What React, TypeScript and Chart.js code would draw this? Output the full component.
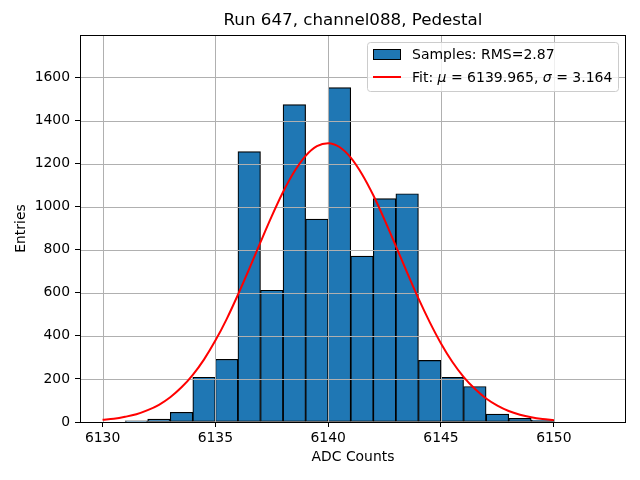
import { useEffect, useRef } from "react";
import { Chart, registerables } from "chart.js";

Chart.register(...registerables);

// histogram bins (left edge, width 1 ADC count)
const binStarts = [
  6131, 6132, 6133, 6134, 6135, 6136, 6137, 6138, 6139, 6140,
  6141, 6142, 6143, 6144, 6145, 6146, 6147, 6148, 6149,
];
const binCounts = [
  5, 13, 45, 208, 291, 1256, 612, 1474, 942, 1553,
  770, 1037, 1060, 286, 207, 165, 37, 17, 9,
];

// gaussian fit curve
const fitX = [
  6130, 6130.5, 6131, 6131.5, 6132, 6132.5, 6133, 6133.5, 6134, 6134.5,
  6135, 6135.5, 6136, 6136.5, 6137, 6137.5, 6138, 6138.5, 6139, 6139.5,
  6140, 6140.5, 6141, 6141.5, 6142, 6142.5, 6143, 6143.5, 6144, 6144.5,
  6145, 6145.5, 6146, 6146.5, 6147, 6147.5, 6148, 6148.5, 6149, 6149.5, 6150,
];
const fitY = [
  10, 15, 24, 36, 55, 80, 115, 161, 219, 291,
  378, 478, 591, 711, 835, 956, 1068, 1163, 1236, 1281,
  1295, 1277, 1228, 1151, 1053, 939, 817, 694, 574, 464,
  365, 280, 210, 154, 109, 76, 51, 34, 22, 14, 9,
];

const xTicks = [6130, 6135, 6140, 6145, 6150];
const yTicks = [0, 200, 400, 600, 800, 1000, 1200, 1400, 1600];

const titleText = "Run 647, channel088, Pedestal";
const xLabel = "ADC Counts";
const yLabel = "Entries";
const samplesLabel = "Samples: RMS=2.87";
// fit label pieces: [text, italic]
const fitLabelParts: [string, boolean][] = [
  ["Fit: ", false],
  ["\u03bc", true],
  [" = 6139.965, ", false],
  ["\u03c3", true],
  [" = 3.164", false],
];

const FONT = "'DejaVu Sans', sans-serif";
const BLUE = "#1f77b4";

const gridOverBars = {
  id: "gridOverBars",
  afterDatasetDraw(chart: any, args: any) {
    if (args.meta.type !== "bar") return;
    const { ctx, chartArea: a, scales } = chart;
    ctx.save();
    ctx.strokeStyle = "#b0b0b0";
    ctx.lineWidth = 1;
    ctx.beginPath();
    xTicks.forEach((v) => {
      const x = Math.round(scales.x.getPixelForValue(v)) + 0.5;
      ctx.moveTo(x, a.top);
      ctx.lineTo(x, a.bottom);
    });
    yTicks.forEach((v) => {
      const y = Math.round(scales.y.getPixelForValue(v)) + 0.5;
      ctx.moveTo(a.left, y);
      ctx.lineTo(a.right, y);
    });
    ctx.stroke();
    ctx.restore();
  },
};

const frameAndLegend = {
  id: "frameAndLegend",
  afterDraw(chart: any) {
    const { ctx, chartArea: a } = chart;
    ctx.save();
    ctx.strokeStyle = "#000";
    ctx.lineWidth = 1;
    ctx.strokeRect(
      Math.round(a.left) + 0.5,
      Math.round(a.top) + 0.5,
      Math.round(a.right - a.left) - 1,
      Math.round(a.bottom - a.top)
    );

    // legend box
    const bx = 367.5, by = 42.5, bw = 251, bh = 49;
    ctx.beginPath();
    ctx.roundRect(bx, by, bw, bh, 3);
    ctx.fillStyle = "rgba(255,255,255,0.8)";
    ctx.fill();
    ctx.strokeStyle = "#cccccc";
    ctx.stroke();

    ctx.fillStyle = BLUE;
    ctx.fillRect(373, 49, 28, 10);
    ctx.strokeStyle = "#000";
    ctx.lineWidth = 1;
    ctx.strokeRect(373.5, 49.5, 27, 10);

    ctx.strokeStyle = "red";
    ctx.lineWidth = 2;
    ctx.beginPath();
    ctx.moveTo(373, 77);
    ctx.lineTo(401, 77);
    ctx.stroke();

    ctx.fillStyle = "#000";
    ctx.textBaseline = "middle";
    ctx.textAlign = "left";
    ctx.font = `14px ${FONT}`;
    ctx.fillText(samplesLabel, 412, 55);
    let tx = 412;
    fitLabelParts.forEach(([t, it]) => {
      ctx.font = `${it ? "italic " : ""}14px ${FONT}`;
      ctx.fillText(t, tx, 78);
      tx += ctx.measureText(t).width;
    });
    ctx.restore();
  },
};

export default function App() {
  const canvasRef = useRef<HTMLCanvasElement | null>(null);

  useEffect(() => {
    document.body.style.margin = "0";
    if (!canvasRef.current) return;
    const chart = new Chart(canvasRef.current, {
      type: "bar",
      data: {
        datasets: [
          {
            type: "bar",
            label: samplesLabel,
            data: binStarts.map((s, i) => ({ x: s + 0.5, y: binCounts[i] })),
            backgroundColor: BLUE,
            borderColor: "#000",
            borderWidth: 1.2,
            borderSkipped: false,
            barPercentage: 1,
            categoryPercentage: 1,
            order: 1,
          },
          {
            type: "line",
            label: "fit",
            data: fitX.map((x, i) => ({ x, y: fitY[i] })),
            borderColor: "red",
            borderWidth: 2,
            pointRadius: 0,
            cubicInterpolationMode: "monotone",
            fill: false,
            order: 0,
          },
        ] as any,
      },
      options: {
        responsive: false,
        animation: false,
        events: [],
        layout: { padding: { left: 0, right: 14, top: 0, bottom: 0 } },
        plugins: {
          legend: { display: false },
          tooltip: { enabled: false },
          title: {
            display: true,
            text: titleText,
            fullSize: false,
            color: "#000",
            font: { family: FONT, size: 16.7, weight: "normal", lineHeight: 1.2 },
            padding: { top: 11, bottom: 4 },
          },
        },
        scales: {
          x: {
            type: "linear",
            min: 6129.0,
            max: 6153.2,
            offset: false,
            afterBuildTicks: (s: any) => {
              s.ticks = xTicks.map((v) => ({ value: v }));
            },
            afterFit: (s: any) => {
              s.height = 58;
            },
            ticks: {
              color: "#000",
              font: { family: FONT, size: 13.9 },
              padding: 3,
              maxRotation: 0,
              autoSkip: false,
              callback: (v: any) => String(v),
            },
            grid: { drawOnChartArea: false, tickLength: 5, color: "#000", offset: false },
            border: { display: false },
            title: {
              display: true,
              text: xLabel,
              color: "#000",
              font: { family: FONT, size: 13.9, lineHeight: 1.2 },
              padding: { top: 0, bottom: 14.5 },
            },
          },
          y: {
            type: "linear",
            min: 0,
            max: 1797,
            afterBuildTicks: (s: any) => {
              s.ticks = yTicks.map((v) => ({ value: v }));
            },
            afterFit: (s: any) => {
              s.width = 80;
            },
            ticks: {
              color: "#000",
              font: { family: FONT, size: 13.9 },
              padding: 5,
              autoSkip: false,
              callback: (v: any) => String(v),
            },
            grid: { drawOnChartArea: false, tickLength: 5, color: "#000" },
            border: { display: false },
            title: {
              display: true,
              text: yLabel,
              color: "#000",
              font: { family: FONT, size: 13.9, lineHeight: 1.2 },
              padding: { top: 13.5, bottom: 0 },
            },
          },
        },
      },
      plugins: [gridOverBars, frameAndLegend],
    });
    return () => chart.destroy();
  }, []);

  return (
    <div style={{ width: 640, height: 480 }}>
      <canvas ref={canvasRef} width={640} height={480} />
    </div>
  );
}
